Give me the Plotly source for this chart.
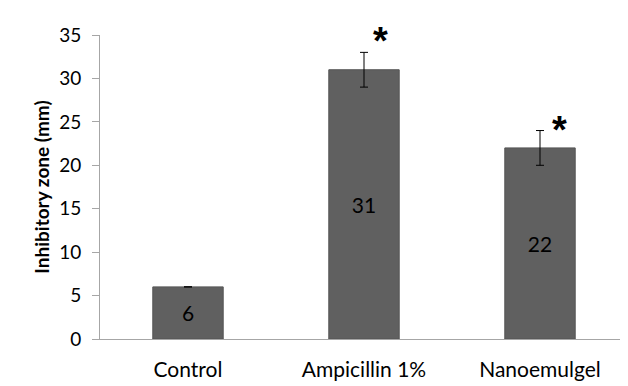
import plotly.graph_objects as go

categories = ["Control", "Ampicillin 1%", "Nanoemulgel"]
values = [6, 31, 22]
errors = [0, 2, 2]
labels = ["6", "31", "22"]
stars = ["", "*", "*"]
y_ticks = [0, 5, 10, 15, 20, 25, 30, 35]

# annotation placement (style, not data)
star_xshift = [0, 16, 19]
star_yshift = [0, 11, 1]

font = "Lato, 'Open Sans', sans-serif"

fig = go.Figure()
fig.add_trace(go.Bar(
    x=categories, y=values, text=labels,
    textposition="inside", insidetextanchor="middle",
    textfont=dict(color="black", size=21, family=font),
    marker=dict(color="#606060", line=dict(color="#555555", width=1)),
    error_y=dict(type="data", array=errors, visible=True, color="black",
                 thickness=1, width=4),
    width=0.4,
))

for c, v, e, s, dx, dy in zip(categories, values, errors, stars, star_xshift, star_yshift):
    if s:
        fig.add_annotation(x=c, y=v + e, text="<b>*</b>", showarrow=False,
                           xshift=dx, yshift=dy, yanchor="middle",
                           font=dict(size=38, color="black", family="Liberation Sans"))

fig.update_layout(
    width=620, height=378,
    margin=dict(l=92, r=0, t=27, b=47),
    plot_bgcolor="white", paper_bgcolor="white",
    showlegend=False,
    font=dict(family=font, size=16, color="black"),
    xaxis=dict(showline=True, linecolor="#a6a6a6", linewidth=1, ticks="",
               ticklabelstandoff=12,
               tickfont=dict(size=21, family=font), showgrid=False),
    yaxis=dict(range=[0, 35], tickvals=y_ticks, showgrid=False, zeroline=False,
               showline=True, linecolor="#a6a6a6", linewidth=1,
               ticks="outside", ticklen=7, tickcolor="#a6a6a6",
               ticklabelstandoff=7,
               tickfont=dict(size=19, family=font),
               title=dict(text="<b>Inhibitory zone (mm)</b>", font=dict(size=19, family=font),
                          standoff=4)),
)

fig.write_html("out.html")
